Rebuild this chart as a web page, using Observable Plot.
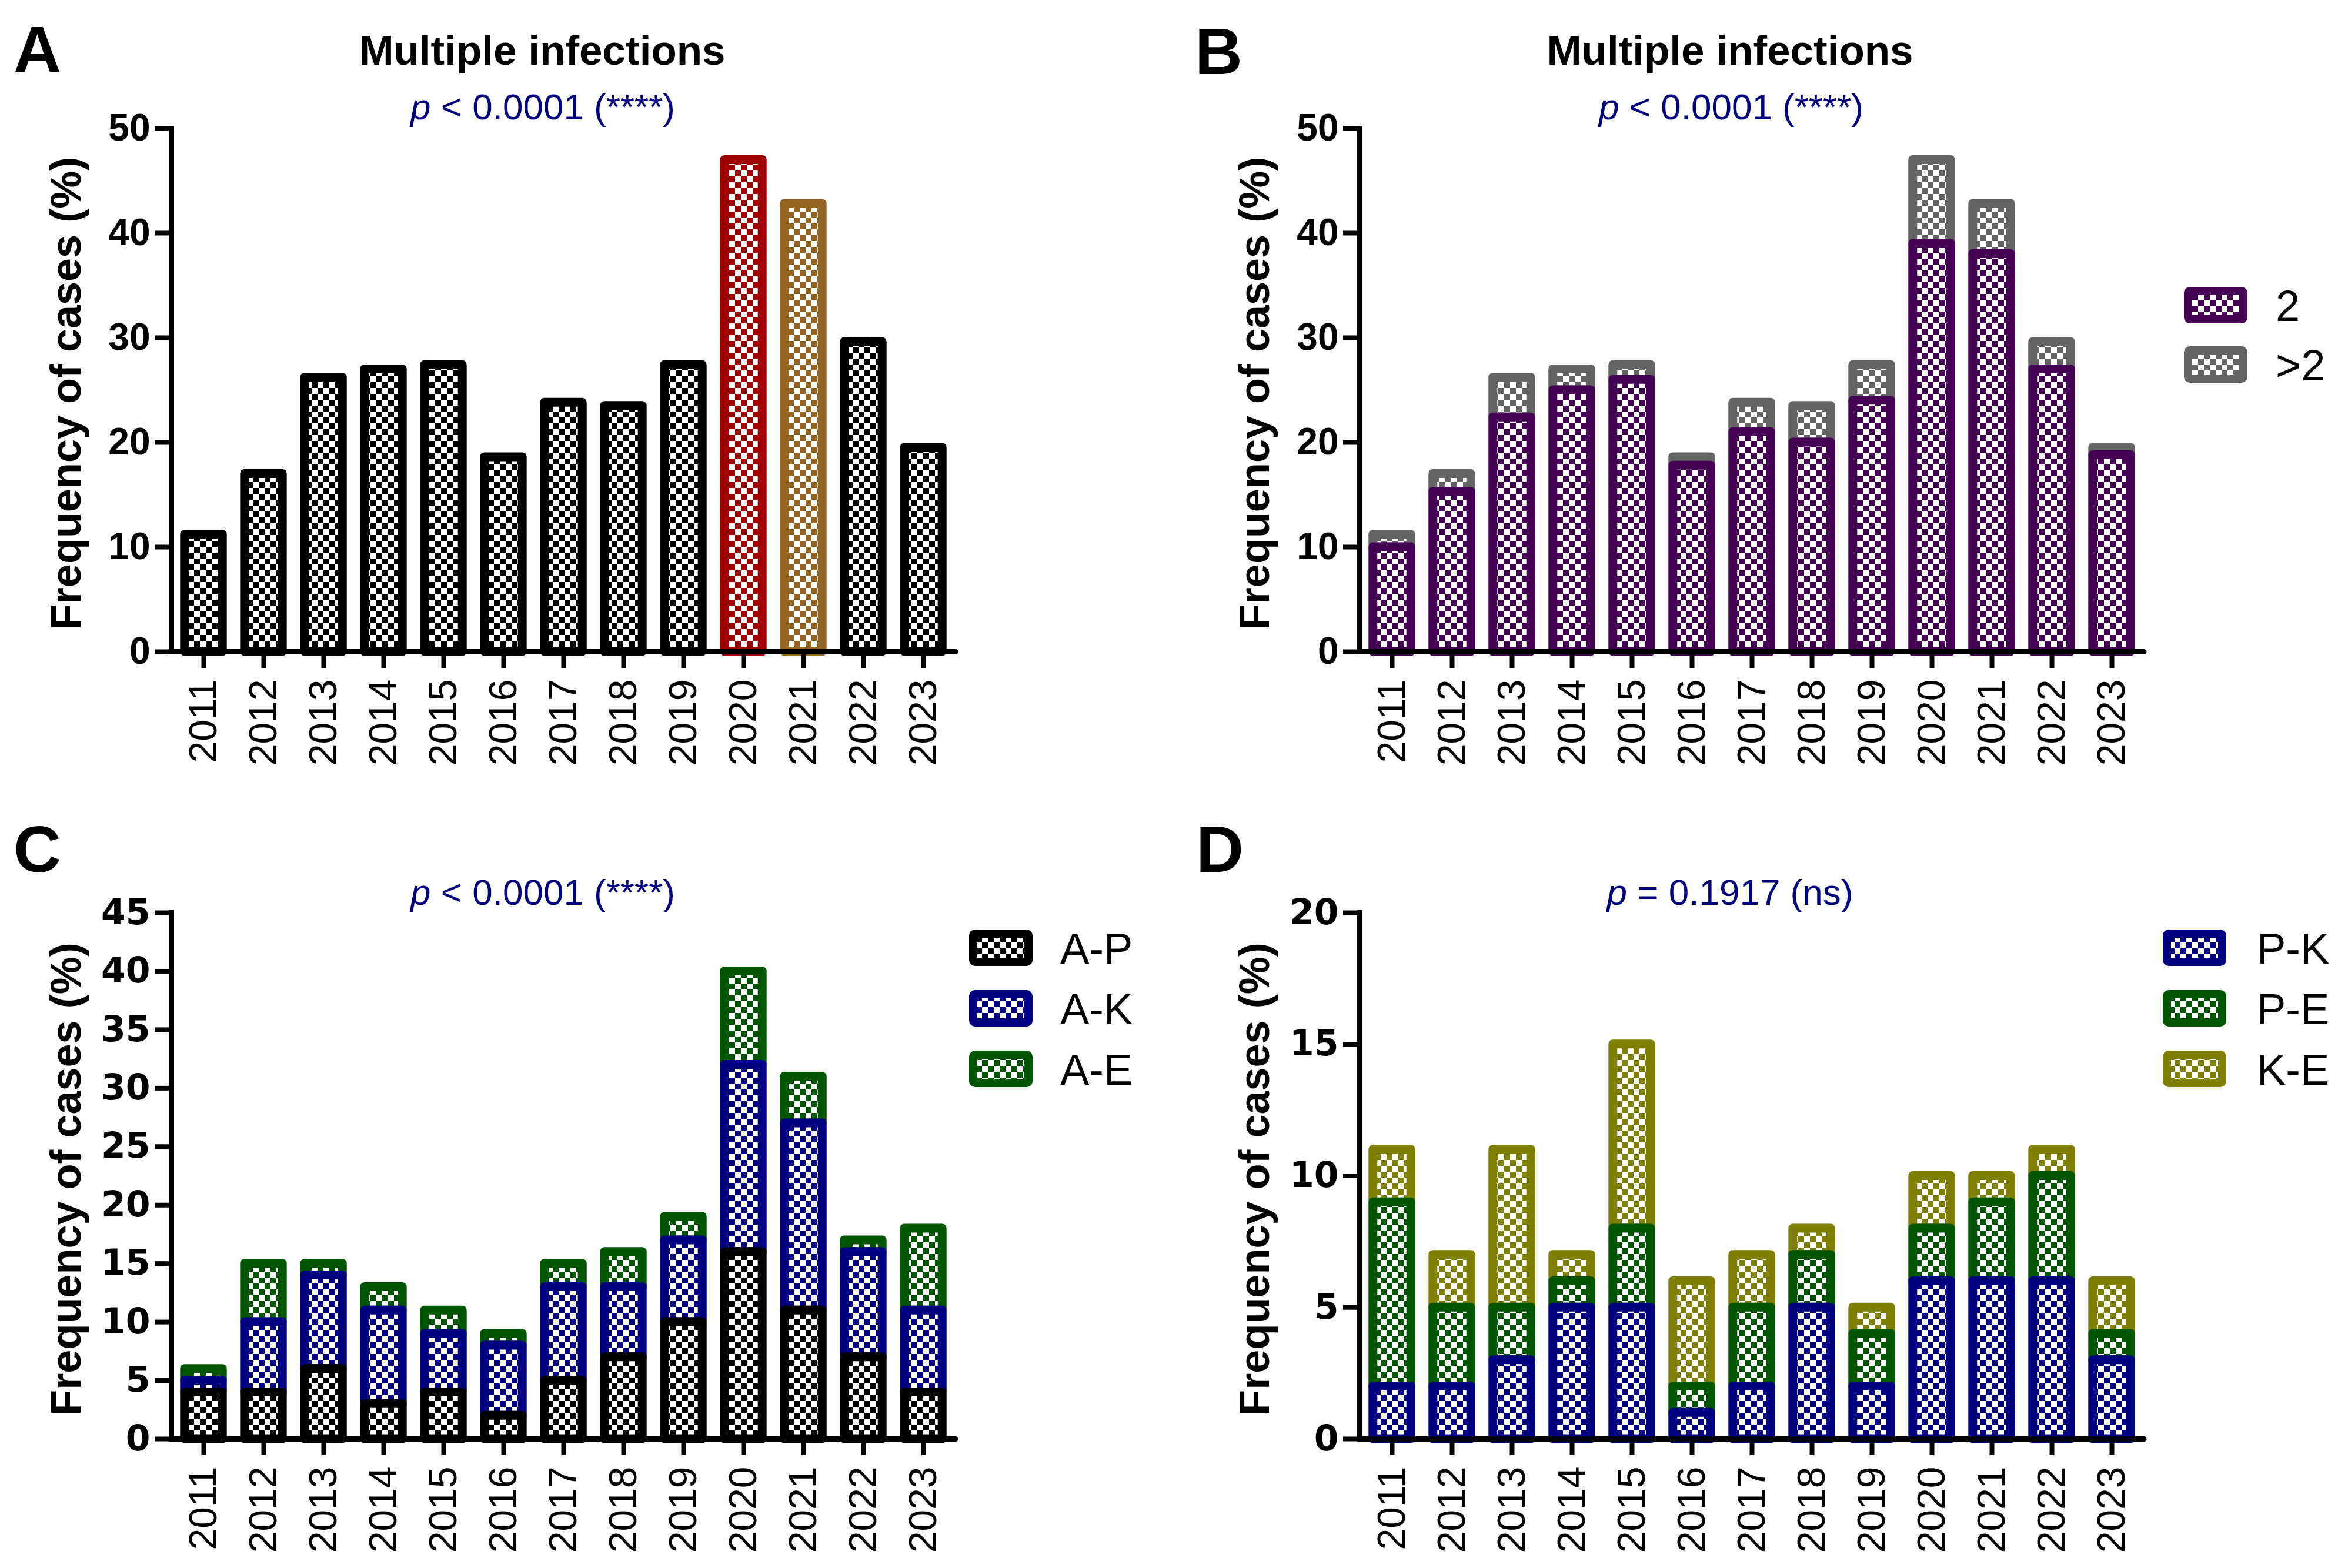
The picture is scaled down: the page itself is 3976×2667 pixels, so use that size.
<!DOCTYPE html>
<html><head><meta charset="utf-8">
<script src="https://cdn.jsdelivr.net/npm/d3@7"></script>
<script src="https://cdn.jsdelivr.net/npm/@observablehq/plot@0.6"></script>
<style>
html,body{margin:0;padding:0;background:#fff;}
#root{position:relative;width:3976px;height:2667px;overflow:hidden;background:#fff;}
.panel{position:absolute;}
.panel svg{display:block;max-width:none !important;}
</style></head><body>
<svg id="defs" width="0" height="0" style="position:absolute;left:0;top:0"></svg>
<div id="root"></div>
<script>
// ---------- data ----------
const years = ["2011","2012","2013","2014","2015","2016","2017","2018","2019","2020","2021","2022","2023"];
// Panel A: total multiple infections (%)
const totalA = [11.2,17,26.2,27,27.4,18.6,23.8,23.5,27.4,47,42.8,29.6,19.5];
const colorKeyA = ["black","black","black","black","black","black","black","black","black","red","brown","black","black"];
// Panel B: 2 vs >2 pathogens
const twoB  = [10,15.3,22.4,25,26,17.8,21,20,24,39,38,27,18.8];
const moreB = [1.2,1.7,3.8,2,1.4,0.8,2.8,3.5,3.4,8,4.8,2.6,0.7];
// Panel C: A-P, A-K, A-E
const AP = [4,4,6,3,4,2,5,7,10,16,11,7,4];
const AK = [1,6,8,8,5,6,8,6,7,16,16,9,7];
const AE = [1,5,1,2,2,1,2,3,2,8,4,1,7];
// Panel D: P-K, P-E, K-E
const PK = [2,2,3,5,5,1,2,5,2,6,6,6,3];
const PE = [7,3,2,1,3,1,3,2,2,2,3,4,1];
const KE = [2,2,6,1,7,4,2,1,1,2,1,1,2];

const legendB = ["2", ">2"];
const legendC = ["A-P", "A-K", "A-E"];
const legendD = ["P-K", "P-E", "K-E"];
const titleText = "Multiple infections";
const yLabelText = "Frequency of cases (%)";
const pTexts = {A: ["p", " < 0.0001 (****)"], B: ["p", " < 0.0001 (****)"], C: ["p", " < 0.0001 (****)"], D: ["p", " = 0.1917 (ns)"]};

// ---------- style ----------
const palette = {black:"#000000", red:"#a00000", brown:"#946320", purple:"#440053", gray:"#646464",
  navy:"#000080", green:"#005500", olive:"#808000"};
const FONT = "'Liberation Sans', Arial, Helvetica, sans-serif";
const SQ = 10;

// checkered patterns
const defs = d3.select("#defs").append("defs");
for (const [name, col] of Object.entries(palette)) {
  const p = defs.append("pattern").attr("id","pat-"+name).attr("patternUnits","userSpaceOnUse")
    .attr("width",2*SQ).attr("height",2*SQ);
  p.append("rect").attr("width",2*SQ).attr("height",2*SQ).attr("fill","#fff");
  p.append("rect").attr("width",SQ).attr("height",SQ).attr("fill",col);
  p.append("rect").attr("x",SQ).attr("y",SQ).attr("width",SQ).attr("height",SQ).attr("fill",col);
}

function stackRows(seriesList) {
  const rows = [];
  years.forEach((yr, i) => {
    let acc = 0;
    for (const s of seriesList) {
      const v = s.values[i];
      rows.push({year: yr, key: s.key, y1: acc, y2: acc + v});
      acc += v;
    }
  });
  return rows;
}

function barMarks(rows, keysDrawOrder) {
  return keysDrawOrder.map(k => Plot.barY(rows, {
    filter: d => d.key === k, x: "year", y1: "y1", y2: "y2",
    fill: `url(#pat-${k})`, stroke: palette[k], strokeWidth: 15, strokeLinejoin: "round",
    insetLeft: 18.8, insetRight: 18.8
  }));
}

function makePanel(cfg) {
  const plot = Plot.plot({
    width: cfg.w, height: cfg.h,
    marginLeft: cfg.ml, marginTop: cfg.mt, marginRight: cfg.mr, marginBottom: cfg.mb,
    style: {background: "none", fontFamily: FONT, color: "black", overflow: "visible"},
    x: {domain: years, padding: 0, label: null},
    y: {domain: cfg.yDomain, label: null},
    marks: [
      ...barMarks(cfg.rows, cfg.drawOrder),
      Plot.axisY({ticks: cfg.yTicks, tickFormat: d => String(d), tickSize: 28, tickPadding: 8,
        fontSize: cfg.tickFontSize, fontWeight: "bold", fontFamily: cfg.tickFont, strokeWidth: 8, label: null}),
      Plot.axisX({tickSize: 28, tickPadding: 19, tickRotate: -90, fontSize: 66, fontFamily: FONT,
        strokeWidth: 8, label: null}),
      Plot.ruleY([0], {strokeWidth: 9, strokeLinecap: "round"}),
      Plot.frame({anchor: "left", strokeWidth: 9})
    ]
  });
  const g = d3.select(plot).append("g").attr("font-family", FONT).style("white-space","pre");
  g.append("text").attr("x", cfg.letter[0]).attr("y", cfg.letter[1]).attr("font-size", 112)
    .attr("text-anchor","start").attr("font-weight", "bold").attr("fill","black").text(cfg.letterText);
  if (cfg.title) g.append("text").attr("x", cfg.title[0]).attr("y", cfg.title[1]).attr("text-anchor","middle")
    .attr("font-size", 71).attr("font-weight","bold").attr("fill","black").text(titleText);
  const pt = g.append("text").attr("x", cfg.p[0]).attr("y", cfg.p[1]).attr("text-anchor","middle")
    .attr("font-size", 62).attr("fill","#000080");
  pt.append("tspan").attr("font-style","italic").text(cfg.pText[0]);
  pt.append("tspan").text(cfg.pText[1]);
  g.append("text").attr("transform", `translate(${cfg.ml - 154},${cfg.mt + (cfg.h - cfg.mt - cfg.mb)/2 + 6}) rotate(-90)`)
    .attr("text-anchor","middle").attr("font-size", 72).attr("font-weight","bold").attr("fill","black").text(yLabelText);
  if (cfg.legend) {
    cfg.legend.labels.forEach((lab, i) => {
      const cy = cfg.legend.cy[i], k = cfg.legend.keys[i];
      g.append("rect").attr("x", cfg.legend.sx + 7).attr("y", cy - 24).attr("width", 94).attr("height", 48)
        .attr("rx", 3).attr("fill", `url(#pat-${k})`).attr("stroke", palette[k]).attr("stroke-width", 14)
        .attr("stroke-linejoin","round");
      g.append("text").attr("x", cfg.legend.tx).attr("y", cy + 27).attr("text-anchor","start")
        .attr("font-size", 74).attr("fill","black").text(lab);
    });
  }
  const div = document.createElement("div");
  div.className = "panel";
  div.style.left = cfg.left + "px"; div.style.top = cfg.top + "px";
  div.style.width = cfg.w + "px"; div.style.height = cfg.h + "px";
  div.appendChild(plot);
  document.getElementById("root").appendChild(div);
}

const rowsA = years.map((yr, i) => ({year: yr, key: colorKeyA[i], y1: 0, y2: totalA[i]}));
const rowsB = stackRows([{key:"purple", values: twoB}, {key:"gray", values: moreB}]);
const rowsC = stackRows([{key:"black", values: AP}, {key:"navy", values: AK}, {key:"green", values: AE}]);
const rowsD = stackRows([{key:"navy", values: PK}, {key:"green", values: PE}, {key:"olive", values: KE}]);
const TICKFONT_AB = FONT;
const TICKFONT_CD = "'DejaVu Sans', 'Liberation Sans', sans-serif";

makePanel({left: 0, top: 0, w: 1988, h: 1333, ml: 291, mt: 218, mr: 363, mb: 225,
  yDomain: [0, 50], yTicks: [0,10,20,30,40,50], tickFont: TICKFONT_AB, tickFontSize: 64,
  rows: rowsA, drawOrder: ["black","red","brown"],
  letterText: "A", letter: [23, 123], title: [922, 110], p: [923, 203], pText: pTexts.A});
makePanel({left: 1988, top: 0, w: 1988, h: 1333, ml: 324, mt: 218, mr: 330, mb: 225,
  yDomain: [0, 50], yTicks: [0,10,20,30,40,50], tickFont: TICKFONT_AB, tickFontSize: 64,
  rows: rowsB, drawOrder: ["gray","purple"],
  letterText: "B", letter: [44, 126], title: [954, 110], p: [956, 203], pText: pTexts.B,
  legend: {labels: legendB, keys: ["purple","gray"], sx: 1726, tx: 1882, cy: [519, 620]}});
makePanel({left: 0, top: 1333, w: 1988, h: 1334, ml: 291, mt: 219, mr: 363, mb: 220,
  yDomain: [0, 45], yTicks: [0,5,10,15,20,25,30,35,40,45], tickFont: TICKFONT_CD, tickFontSize: 60,
  rows: rowsC, drawOrder: ["green","navy","black"],
  letterText: "C", letter: [23, 150], p: [923, 206], pText: pTexts.C,
  legend: {labels: legendC, keys: ["black","navy","green"], sx: 1648, tx: 1803, cy: [279, 382, 485]}});
makePanel({left: 1988, top: 1333, w: 1988, h: 1334, ml: 324, mt: 219, mr: 330, mb: 220,
  yDomain: [0, 20], yTicks: [0,5,10,15,20], tickFont: TICKFONT_CD, tickFontSize: 60,
  rows: rowsD, drawOrder: ["olive","green","navy"],
  letterText: "D", letter: [46, 150], p: [954, 206], pText: pTexts.D,
  legend: {labels: legendD, keys: ["navy","green","olive"], sx: 1690, tx: 1850, cy: [279, 382, 485]}});
</script>
</body></html>
